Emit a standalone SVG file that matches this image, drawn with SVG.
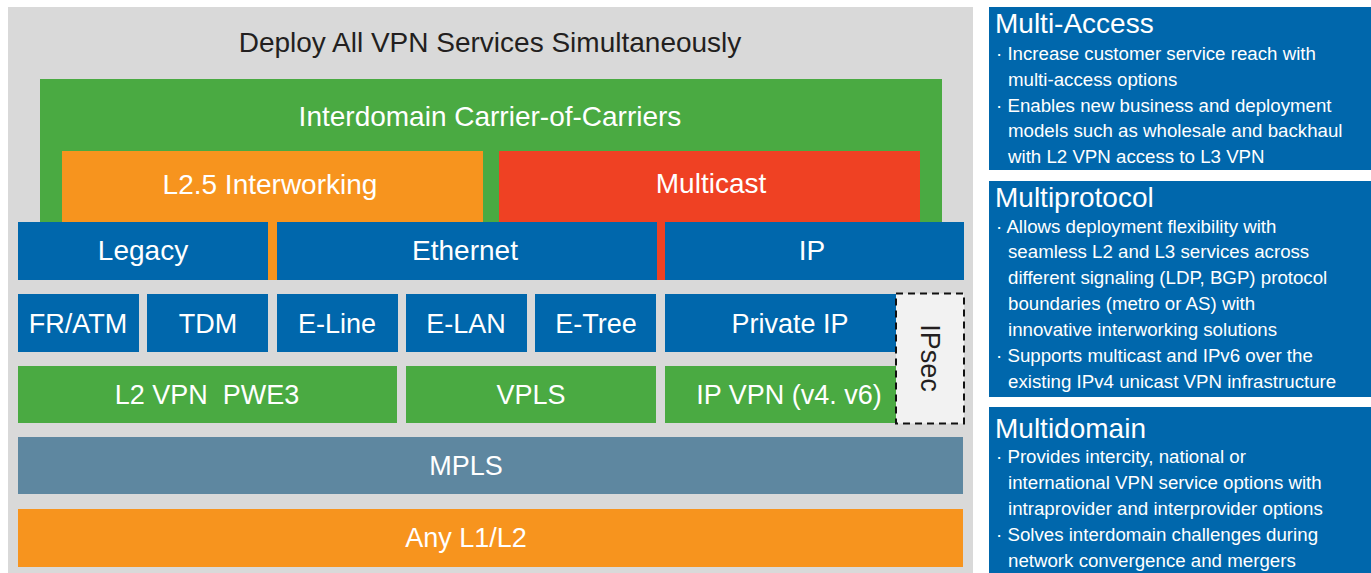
<svg xmlns="http://www.w3.org/2000/svg" width="1371" height="573" viewBox="0 0 1371 573">
  <style>
    .lbl { font-family: "Liberation Sans", Arial, sans-serif; fill: #ffffff; text-anchor: middle; }
    .big { font-size: 28px; }
    .mid { font-size: 27px; }
    .blue { fill: #0067ac; }
    .green { fill: #4aaa42; }
    .orange { fill: #f7941e; }
    .red { fill: #ef4123; }
    .steel { fill: #5e87a0; }
    .side { fill: #0067ac; }
    .sideTitle { font-family: "Liberation Sans", Arial, sans-serif; font-size: 28px; fill: #ffffff; }
    .sideText { font-family: "Liberation Sans", Arial, sans-serif; font-size: 18.7px; fill: #ffffff; }
  </style>

  <rect width="1371" height="573" fill="#ffffff"/>

  <!-- stack background -->
  <rect x="8" y="7" width="965" height="566" fill="#d9d9d9"/>
  <text x="490" y="52" font-family="Liberation Sans, Arial, sans-serif" font-size="28" fill="#231f20" text-anchor="middle">Deploy All VPN Services Simultaneously</text>

  <g id="carrier-of-carriers">
    <rect class="green" x="40" y="79" width="902" height="201"/>
    <text class="lbl big" x="490" y="126">Interdomain Carrier-of-Carriers</text>
  </g>

  <g id="l25-interworking">
    <rect class="orange" x="62" y="151" width="421" height="129"/>
    <text class="lbl big" x="270" y="194">L2.5 Interworking</text>
  </g>

  <g id="multicast">
    <rect class="red" x="499" y="151" width="421" height="129"/>
    <text class="lbl big" x="711" y="193">Multicast</text>
  </g>

  <g id="legacy">
    <rect class="blue" x="18" y="222" width="250" height="58"/>
    <text class="lbl big" x="143" y="260">Legacy</text>
  </g>
  <g id="ethernet">
    <rect class="blue" x="277" y="222" width="380" height="58"/>
    <text class="lbl big" x="465" y="260">Ethernet</text>
  </g>
  <g id="ip">
    <rect class="blue" x="665" y="222" width="299" height="58"/>
    <text class="lbl big" x="812" y="260">IP</text>
  </g>

  <g id="fr-atm">
    <rect class="blue" x="18" y="294" width="121" height="58"/>
    <text class="lbl mid" x="78" y="333">FR/ATM</text>
  </g>
  <g id="tdm">
    <rect class="blue" x="147" y="294" width="121" height="58"/>
    <text class="lbl mid" x="208" y="333">TDM</text>
  </g>
  <g id="e-line">
    <rect class="blue" x="277" y="294" width="121" height="58"/>
    <text class="lbl mid" x="337" y="333">E-Line</text>
  </g>
  <g id="e-lan">
    <rect class="blue" x="406" y="294" width="121" height="58"/>
    <text class="lbl mid" x="466" y="333">E-LAN</text>
  </g>
  <g id="e-tree">
    <rect class="blue" x="535" y="294" width="121" height="58"/>
    <text class="lbl mid" x="596" y="333">E-Tree</text>
  </g>
  <g id="private-ip">
    <rect class="blue" x="665" y="294" width="231" height="58"/>
    <text class="lbl mid" x="790" y="333">Private IP</text>
  </g>

  <g id="l2vpn-pwe3">
    <rect class="green" x="18" y="366" width="379" height="57"/>
    <text class="lbl mid" x="207" y="404" xml:space="preserve">L2 VPN  PWE3</text>
  </g>
  <g id="vpls">
    <rect class="green" x="406" y="366" width="250" height="57"/>
    <text class="lbl mid" x="531" y="404">VPLS</text>
  </g>
  <g id="ip-vpn">
    <rect class="green" x="665" y="366" width="231" height="57"/>
    <text class="lbl mid" x="789" y="404">IP VPN (v4. v6)</text>
  </g>

  <g id="ipsec">
    <rect x="896" y="293.5" width="68" height="130" fill="#f2f2f2" stroke="#111111" stroke-width="2" stroke-dasharray="7,5"/>
    <text x="930" y="358" transform="rotate(90 930 358)" font-family="Liberation Sans, Arial, sans-serif" font-size="27" fill="#231f20" text-anchor="middle" dominant-baseline="central">IPsec</text>
  </g>

  <g id="mpls">
    <rect class="steel" x="18" y="437" width="945" height="57"/>
    <text class="lbl mid" x="466" y="475">MPLS</text>
  </g>

  <g id="any-l1-l2">
    <rect class="orange" x="18" y="509" width="945" height="58"/>
    <text class="lbl mid" x="466" y="547">Any L1/L2</text>
  </g>

  <!-- no connectors in this layered stack -->
  <g id="connectors"/>

  <g id="multi-access">
    <rect class="side" x="989" y="7" width="382" height="163"/>
    <text class="sideTitle" x="995" y="33">Multi-Access</text>
    <text class="sideText" x="996" y="60">· Increase customer service reach with</text>
    <text class="sideText" x="1008" y="86">multi-access options</text>
    <text class="sideText" x="996" y="112">· Enables new business and deployment</text>
    <text class="sideText" x="1008" y="137">models such as wholesale and backhaul</text>
    <text class="sideText" x="1008" y="163">with L2 VPN access to L3 VPN</text>
  </g>

  <g id="multiprotocol">
    <rect class="side" x="989" y="181" width="382" height="216"/>
    <text class="sideTitle" x="995" y="207">Multiprotocol</text>
    <text class="sideText" x="996" y="233">· Allows deployment flexibility with</text>
    <text class="sideText" x="1008" y="258">seamless L2 and L3 services across</text>
    <text class="sideText" x="1008" y="284">different signaling (LDP, BGP) protocol</text>
    <text class="sideText" x="1008" y="310">boundaries (metro or AS) with</text>
    <text class="sideText" x="1008" y="336">innovative interworking solutions</text>
    <text class="sideText" x="996" y="362">· Supports multicast and IPv6 over the</text>
    <text class="sideText" x="1008" y="388">existing IPv4 unicast VPN infrastructure</text>
  </g>

  <g id="multidomain">
    <rect class="side" x="989" y="407" width="382" height="166"/>
    <text class="sideTitle" x="995" y="438">Multidomain</text>
    <text class="sideText" x="996" y="463">· Provides intercity, national or</text>
    <text class="sideText" x="1008" y="489">international VPN service options with</text>
    <text class="sideText" x="1008" y="515">intraprovider and interprovider options</text>
    <text class="sideText" x="996" y="541">· Solves interdomain challenges during</text>
    <text class="sideText" x="1008" y="567">network convergence and mergers</text>
  </g>
</svg>
